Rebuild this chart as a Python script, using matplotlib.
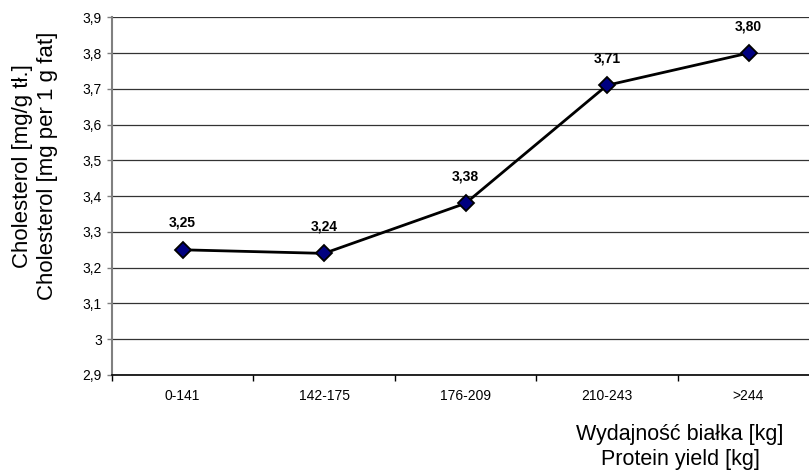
import matplotlib
matplotlib.use("Agg")
import matplotlib.pyplot as plt
from matplotlib.ticker import FixedLocator

plt.rcParams['font.family'] = ['Liberation Sans', 'DejaVu Sans']

categories = ["0-141", "142-175", "176-209", "210-243", ">244"]
values = [3.25, 3.24, 3.38, 3.71, 3.80]
value_labels = ["3,25", "3,24", "3,38", "3,71", "3,80"]
y_ticks = [2.9, 3.0, 3.1, 3.2, 3.3, 3.4, 3.5, 3.6, 3.7, 3.8, 3.9]
y_tick_labels = ["2,9", "3", "3,1", "3,2", "3,3", "3,4", "3,5", "3,6", "3,7", "3,8", "3,9"]

W, H = 809, 476
fig = plt.figure(figsize=(W / 100, H / 100), dpi=100)
left, right = 111.8, 819.3
top, bottom = 17.3, 375.0
ax = fig.add_axes([left / W, 1 - bottom / H, (right - left) / W, (bottom - top) / H])

x = list(range(len(categories)))
ax.plot(x, values, color='black', linewidth=2.0, zorder=3,
        marker='D', markersize=8.5, markerfacecolor='#000080',
        markeredgecolor='black', markeredgewidth=1.3)

for xi, v, lab in zip(x, values, value_labels):
    ax.annotate(lab, (xi, v), xytext=(0, 16.5), textcoords='offset points',
                ha='center', va='baseline', fontsize=10, fontweight='bold')

ax.set_xlim(-0.5, len(categories) - 0.5)
ax.set_ylim(2.9, 3.9)
ax.set_yticks(y_ticks)
ax.set_yticklabels(y_tick_labels, fontsize=10)
ax.set_xticks(x)
ax.set_xticklabels(categories, fontsize=10)
ax.xaxis.set_minor_locator(FixedLocator([i + 0.5 for i in range(-1, len(categories))]))
ax.tick_params(axis='x', which='major', length=0, pad=10)
ax.tick_params(axis='x', which='minor', length=4, width=1, color='black', direction='out')
ax.tick_params(axis='y', length=3.6, width=1, color='#808080', pad=3.6)

ax.yaxis.grid(True, color='#333333', linewidth=0.9)
ax.set_axisbelow(True)
for s in ('top', 'right'):
    ax.spines[s].set_visible(False)
ax.spines['left'].set_color('#808080')
ax.spines['left'].set_linewidth(1.5)
ax.spines['bottom'].set_color('black')
ax.spines['bottom'].set_linewidth(1.2)

fig.text(35 / W, 1 - 166 / H, "Cholesterol [mg/g tł.]\nCholesterol [mg per 1 g fat]",
         rotation=90, ha='center', va='center', multialignment='center', fontsize=16,
         linespacing=1.25)
fig.text(680 / W, 1 - 447 / H, "Wydajność białka [kg]\nProtein yield [kg]",
         ha='center', va='center', multialignment='center', fontsize=15.5,
         linespacing=1.3)

fig.savefig("out.png", dpi=100)
